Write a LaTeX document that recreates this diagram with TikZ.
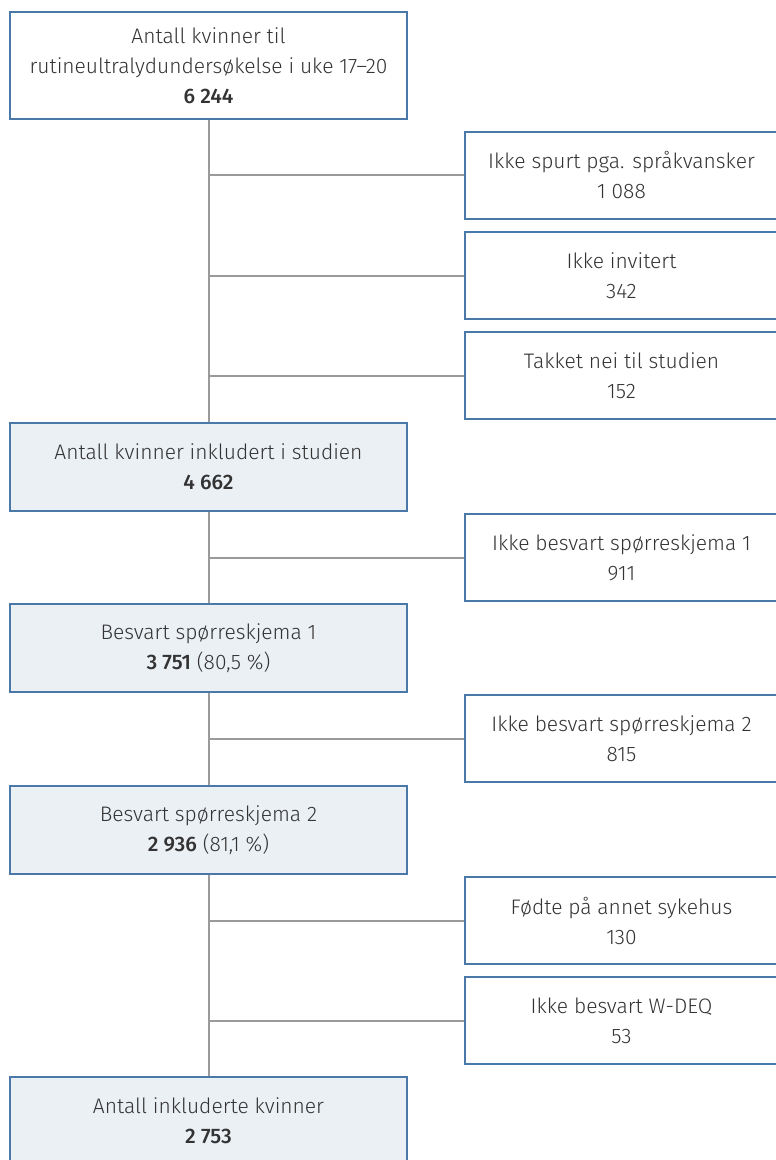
\documentclass[tikz,border=0pt]{standalone}
\usepackage{fontspec}
\setmainfont{Fira Sans}[UprightFont=* Light, BoldFont=* Medium]
\definecolor{boxblue}{HTML}{4A78A8}
\definecolor{boxfill}{HTML}{EBF0F5}
\definecolor{linegray}{HTML}{9A9A9A}
\definecolor{txt}{HTML}{333333}
\begin{document}
\begin{tikzpicture}[x=1pt,y=-1pt,
  every node/.style={font=\fontsize{21}{30}\selectfont, text=txt, align=center, inner sep=0pt},
  mainbox/.style={draw=boxblue, line width=2pt, minimum width=397pt},
  filledbox/.style={mainbox, fill=boxfill},
  sidebox/.style={draw=boxblue, line width=2pt, minimum width=313pt, minimum height=87pt},
  conn/.style={draw=linegray, line width=2pt}]
\useasboundingbox (0,0) rectangle (776,1160);
\clip (0,0) rectangle (776,1160);
% main boxes
\node[mainbox, minimum height=107pt] (b1) at (208.5,65.5) {Antall kvinner til\\rutineultralydundersøkelse i uke 17–20\\\textbf{6 244}};
\node[filledbox, minimum height=88pt] (b2) at (208.5,467) {Antall kvinner inkludert i studien\\\textbf{4 662}};
\node[filledbox, minimum height=88pt] (b3) at (208.5,648) {Besvart spørreskjema 1\\\textbf{3 751} (80,5 \%)};
\node[filledbox, minimum height=88pt] (b4) at (208.5,830) {Besvart spørreskjema 2\\\textbf{2 936} (81,1 \%)};
\node[filledbox, minimum height=88pt] (b5) at (208.5,1121) {Antall inkluderte kvinner\\\textbf{2 753}};
% side boxes
\node[sidebox] (r1) at (621.5,175) {Ikke spurt pga. språkvansker\\1 088};
\node[sidebox] (r2) at (621.5,275.5) {Ikke invitert\\342};
\node[sidebox] (r3) at (621.5,375.5) {Takket nei til studien\\152};
\node[sidebox] (r4) at (621.5,557.5) {Ikke besvart spørreskjema 1\\911};
\node[sidebox] (r5) at (621.5,738.5) {Ikke besvart spørreskjema 2\\815};
\node[sidebox] (r6) at (621.5,920.5) {Fødte på annet sykehus\\130};
\node[sidebox] (r7) at (621.5,1020.5) {Ikke besvart W-DEQ\\53};
% vertical connectors
\draw[conn] (b1.south) -- (b2.north);
\draw[conn] (b2.south) -- (b3.north);
\draw[conn] (b3.south) -- (b4.north);
\draw[conn] (b4.south) -- (b5.north);
% horizontal connectors
\draw[conn] (r1.west -| b1.south) -- (r1.west);
\draw[conn] (r2.west -| b1.south) -- (r2.west);
\draw[conn] (r3.west -| b1.south) -- (r3.west);
\draw[conn] (r4.west -| b2.south) -- (r4.west);
\draw[conn] (r5.west -| b3.south) -- (r5.west);
\draw[conn] (r6.west -| b4.south) -- (r6.west);
\draw[conn] (r7.west -| b4.south) -- (r7.west);
\end{tikzpicture}
\end{document}
